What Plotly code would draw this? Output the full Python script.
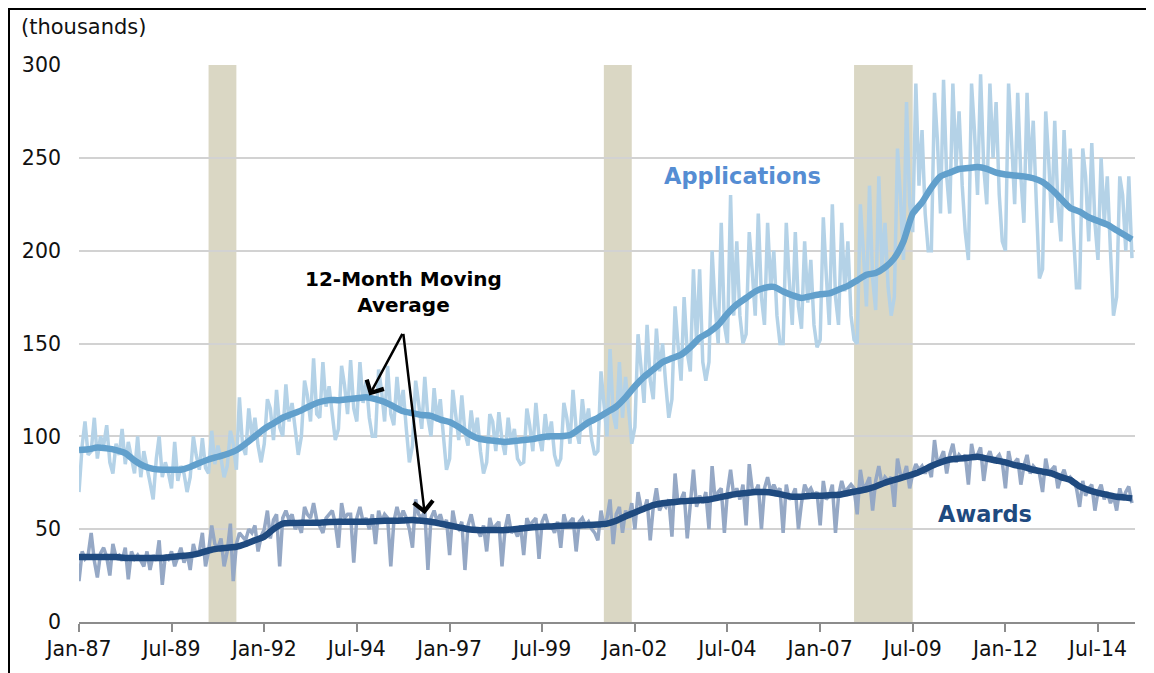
import pandas as pd
import plotly.graph_objects as go

# ---------------- data (thousands) ----------------
start_month = "1987-01-01"

applications = [
    70, 95, 108, 90, 92, 110, 88, 100, 95, 106, 86, 80,        # 1987
    96, 90, 104, 85, 97, 88, 80, 100, 78, 92, 84, 75,          # 1988
    66, 88, 100, 78, 86, 80, 72, 97, 76, 84, 80, 70,           # 1989
    78, 100, 90, 82, 99, 83, 80, 103, 85, 95, 88, 78,          # 1990
    84, 103, 96, 82, 121, 95, 90, 115, 100, 110, 95, 86,       # 1991
    96, 120, 115, 98, 125, 105, 100, 128, 108, 118, 104, 90,   # 1992
    100, 130, 122, 108, 142, 112, 110, 140, 116, 127, 112, 98, # 1993
    104, 138, 128, 112, 141, 115, 108, 140, 118, 130, 110, 100,# 1994
    100, 136, 125, 108, 138, 112, 106, 132, 114, 125, 104, 86, # 1995
    95, 130, 118, 104, 132, 110, 100, 126, 108, 120, 100, 82,  # 1996
    88, 125, 112, 98, 122, 102, 95, 114, 100, 110, 92, 80,     # 1997
    86, 112, 108, 92, 113, 98, 90, 110, 96, 104, 88, 85,       # 1998
    86, 115, 106, 92, 118, 100, 92, 112, 98, 108, 90, 84,      # 1999
    88, 118, 110, 96, 125, 104, 96, 120, 105, 115, 98, 90,     # 2000
    92, 135, 118, 100, 147, 112, 104, 140, 110, 132, 114, 96,  # 2001
    105, 155, 138, 118, 160, 130, 120, 158, 135, 150, 128, 110,# 2002
    120, 170, 150, 130, 175, 145, 135, 190, 150, 190, 140, 130,# 2003
    140, 200, 170, 150, 215, 160, 150, 230, 165, 205, 165, 150,# 2004
    155, 210, 190, 165, 220, 175, 160, 215, 180, 200, 165, 150,# 2005
    150, 215, 185, 160, 210, 170, 158, 205, 172, 195, 160, 148,# 2006
    152, 218, 188, 160, 225, 175, 160, 215, 178, 205, 165, 152,# 2007
    150, 225, 200, 170, 235, 185, 168, 240, 190, 215, 180, 165,# 2008
    175, 255, 230, 195, 280, 225, 210, 290, 235, 265, 220, 200,# 2009
    200, 285, 260, 220, 292, 240, 220, 290, 245, 275, 235, 210,# 2010
    195, 290, 265, 230, 295, 245, 225, 290, 250, 280, 230, 205,# 2011
    200, 290, 260, 225, 285, 240, 215, 285, 240, 270, 225, 185,# 2012
    190, 275, 250, 215, 270, 225, 205, 265, 225, 255, 210, 180,# 2013
    180, 255, 240, 205, 258, 215, 195, 250, 215, 240, 200, 165,# 2014
    175, 240, 230, 200, 240, 196,                              # 2015
]

awards = [
    22, 38, 34, 36, 48, 33, 24, 37, 40, 35, 25, 42,   # 1987
    35, 36, 33, 40, 23, 38, 34, 36, 33, 30, 38, 28,   # 1988
    36, 33, 44, 20, 36, 34, 38, 30, 35, 40, 32, 37,   # 1989
    28, 42, 36, 38, 48, 30, 38, 52, 42, 40, 45, 30,   # 1990
    38, 53, 22, 42, 48, 46, 44, 50, 48, 52, 38, 46,   # 1991
    50, 60, 45, 55, 58, 30, 56, 60, 55, 58, 50, 53,   # 1992
    48, 62, 58, 56, 64, 55, 52, 48, 56, 58, 60, 53,   # 1993
    40, 64, 56, 58, 58, 32, 56, 62, 54, 56, 50, 58,   # 1994
    42, 60, 54, 58, 56, 30, 54, 62, 55, 60, 56, 50,   # 1995
    40, 66, 58, 56, 60, 28, 56, 60, 54, 58, 52, 55,   # 1996
    36, 60, 52, 50, 54, 28, 52, 58, 50, 50, 46, 52,   # 1997
    38, 56, 50, 52, 54, 30, 50, 58, 48, 50, 46, 52,   # 1998
    36, 56, 52, 54, 56, 34, 54, 58, 52, 52, 48, 54,   # 1999
    40, 58, 52, 54, 56, 38, 54, 56, 52, 54, 50, 48,   # 2000
    44, 60, 52, 56, 66, 42, 58, 62, 48, 60, 56, 64,   # 2001
    50, 70, 62, 60, 66, 44, 62, 72, 60, 64, 62, 66,   # 2002
    46, 80, 64, 66, 70, 45, 66, 82, 62, 68, 64, 70,   # 2003
    50, 84, 66, 70, 72, 48, 70, 82, 68, 72, 66, 74,   # 2004
    52, 85, 72, 70, 74, 50, 72, 78, 70, 74, 70, 72,   # 2005
    48, 74, 66, 68, 72, 50, 64, 74, 70, 72, 68, 70,   # 2006
    52, 76, 66, 68, 74, 48, 68, 76, 70, 72, 74, 72,   # 2007
    58, 82, 72, 74, 78, 60, 76, 84, 74, 78, 76, 78,   # 2008
    62, 88, 80, 78, 84, 72, 80, 85, 82, 84, 80, 84,   # 2009
    78, 98, 86, 88, 92, 80, 90, 96, 86, 90, 88, 90,   # 2010
    74, 96, 88, 90, 94, 76, 88, 92, 86, 88, 90, 86,   # 2011
    72, 92, 84, 86, 88, 74, 84, 90, 80, 84, 82, 80,   # 2012
    70, 88, 80, 82, 84, 72, 78, 82, 76, 78, 76, 72,   # 2013
    62, 76, 68, 72, 74, 60, 70, 74, 66, 70, 64, 68,   # 2014
    60, 72, 66, 70, 73, 64,                           # 2015
]

# 12-month moving averages, read quarterly (Jan, Apr, Jul, Oct) + last month
applications_ma = [
    92.6, 93, 94, 93.5,  92.6, 91, 87, 84,  82.5, 82, 82, 82,
    83.5, 85.6, 87.5, 89,  90.5, 92.5, 96, 100,  104, 107, 110, 112,
    114, 116.5, 118.5, 119.5,  119.5, 120, 120.5, 121,  120, 118.5, 116, 113.5,
    112.5, 111.5, 111, 109,  107.7, 105, 101.6, 99,  98, 97.5, 97, 97.5,
    98, 98.5, 99.5, 100,  100, 100.7, 104, 107.5,  110, 113, 116, 121,
    127, 132, 136, 140,  142, 144, 148, 153,  156, 160, 166, 171,
    174.5, 178, 180, 180.5,  178, 176, 174.5, 175.5,  176.5, 177, 179, 181,
    184, 187, 188, 191,  196, 205, 220, 226,  234, 240, 242, 244,
    244.5, 245, 244, 242,  241, 240.5, 240, 239,  237, 233, 228, 223,
    221, 218, 216, 214,  211, 208, 206,
]
awards_ma = [
    35, 35, 35, 35,  35, 34.5, 34.5, 34.5,  34.5, 34.5, 35, 35.5,
    36, 37, 38.5, 39.5,  40, 40.5, 42, 44,  46, 50, 53, 53.3,
    53.5, 53.5, 53.5, 53.8,  54, 54, 54, 54,  54.3, 54.5, 54.5, 54.7,
    55, 54.5, 54, 53,  52, 51, 50, 49.5,  49.5, 49.5, 49.5, 50,
    50.5, 51, 51.3, 51.5,  51.8, 52, 52, 52.2,  52.5, 53, 54.5, 57,
    59, 61, 63, 64,  64.5, 65, 65.3, 65.6,  66, 67, 68, 69,
    69.5, 70, 70, 69.5,  68.5, 67.5, 67.5, 68,  68, 68.3, 68.5, 69.5,
    70.5, 71.5, 73, 75,  76.5, 78, 79.5, 81.5,  84, 86, 87.5, 88,
    88.5, 89, 88, 87,  86, 84.5, 83.5, 82,  81, 80, 78, 76.5,
    73, 71, 69.5, 68.5,  67.5, 67, 66.5,
]

# recession shading: first month of recession, first month after it
recessions = [("1990-07-01", "1991-04-01"),
              ("2001-03-01", "2001-12-01"),
              ("2007-12-01", "2009-07-01")]

months = pd.date_range(start_month, periods=len(applications), freq="MS")
ma_dates = list(pd.date_range(start_month, "2015-04-01", freq="3MS")) + [pd.Timestamp("2015-06-01")]

# ---------------- colours ----------------
C_APP_RAW = "#b4d2e7"
C_APP_MA = "#62a0cc"
C_AWD_RAW = "#95a8c5"
C_AWD_MA = "#1f4a7f"
C_REC = "#dad7c4"
FONT = "DejaVu Sans"

# layout in page pixels (the page body adds an 8px offset)
OFF = 8
W, H = 1154 - OFF, 673 - OFF
PL, PR, PT, PB = 79, 1135, 65, 622           # plot box on the page
L, R, T, B = PL - OFF, W - (PR - OFF), PT - OFF, H - (PB - OFF)
PW, PH = W - L - R, H - T - B


def px(xp):
    return (xp - PL) / PW


def py(yp):
    return (PB - yp) / PH


fig = go.Figure()

fig.add_trace(go.Scatter(x=months, y=applications, mode="lines",
                         line=dict(color=C_APP_RAW, width=3.5), hoverinfo="skip"))
fig.add_trace(go.Scatter(x=months, y=awards, mode="lines",
                         line=dict(color=C_AWD_RAW, width=3.5), hoverinfo="skip"))
fig.add_trace(go.Scatter(x=ma_dates, y=applications_ma, mode="lines",
                         line=dict(color=C_APP_MA, width=6.5, shape="spline", smoothing=0.6)))
fig.add_trace(go.Scatter(x=ma_dates, y=awards_ma, mode="lines",
                         line=dict(color=C_AWD_MA, width=6.5, shape="spline", smoothing=0.6)))

for a, b in recessions:
    fig.add_shape(type="rect", xref="x", yref="y", x0=a, x1=b, y0=0, y1=300,
                  fillcolor=C_REC, line=dict(width=0), layer="below")

# outer frame
fig.add_shape(type="rect", xref="paper", yref="paper",
              x0=px(OFF + 1), x1=px(1151), y0=py(700), y1=py(OFF + 1),
              line=dict(color="black", width=2), fillcolor="rgba(0,0,0,0)", layer="above")

annos = [
    dict(text="(thousands)", xref="paper", yref="paper", x=px(19), y=py(27),
         xanchor="left", yanchor="middle", showarrow=False, font=dict(size=21, color="#111", family=FONT)),
    dict(text="<b>Applications</b>", xref="x", yref="y", x="2004-12-01", y=240,
         xanchor="center", yanchor="middle", showarrow=False, font=dict(size=22.5, color="#558dd3", family=FONT)),
    dict(text="<b>Awards</b>", xref="x", yref="y", x="2011-06-15", y=58,
         xanchor="center", yanchor="middle", showarrow=False, font=dict(size=22.5, color=C_AWD_MA, family=FONT)),
    dict(text="<b>12-Month Moving<br>Average</b>", xref="x", yref="y", x="1995-10-01", y=178,
         xanchor="center", yanchor="middle", showarrow=False, font=dict(size=20, color="black", family=FONT)),
    dict(text="", xref="x", yref="y", x="1994-11-01", y=122, axref="x", ayref="y",
         ax="1995-10-01", ay=156, showarrow=True, arrowhead=4, arrowsize=1.5, arrowwidth=2.5, arrowcolor="black"),
    dict(text="", xref="x", yref="y", x="1996-05-01", y=58, axref="x", ayref="y",
         ax="1995-10-01", ay=156, showarrow=True, arrowhead=4, arrowsize=1.5, arrowwidth=2.5, arrowcolor="black"),
]
fig.update_layout(annotations=annos)

fig.update_layout(
    width=W, height=H,
    margin=dict(l=L, r=R, t=T, b=B, autoexpand=False),
    paper_bgcolor="white", plot_bgcolor="white",
    showlegend=False,
    font=dict(family=FONT, size=21, color="#111"),
    xaxis=dict(type="date", range=["1987-01-01", "2015-07-01"],
               tick0="1987-01-01", dtick="M30", tickformat="%b-%y",
               showgrid=False, zeroline=False, showline=True, linecolor="#8c8c8c", linewidth=1.5,
               ticks="outside", ticklen=8, tickcolor="#8c8c8c", tickwidth=1.5,
               tickfont=dict(size=20.5, family=FONT)),
    yaxis=dict(range=[0, 300], tickvals=[0, 50, 100, 150, 200, 250, 300],
               showgrid=True, gridcolor="#d2d2d2", gridwidth=1.5, zeroline=False,
               showline=False, ticks="", ticklabelstandoff=17,
               tickfont=dict(size=20.5, family=FONT)),
)

fig.write_html("out.html")
